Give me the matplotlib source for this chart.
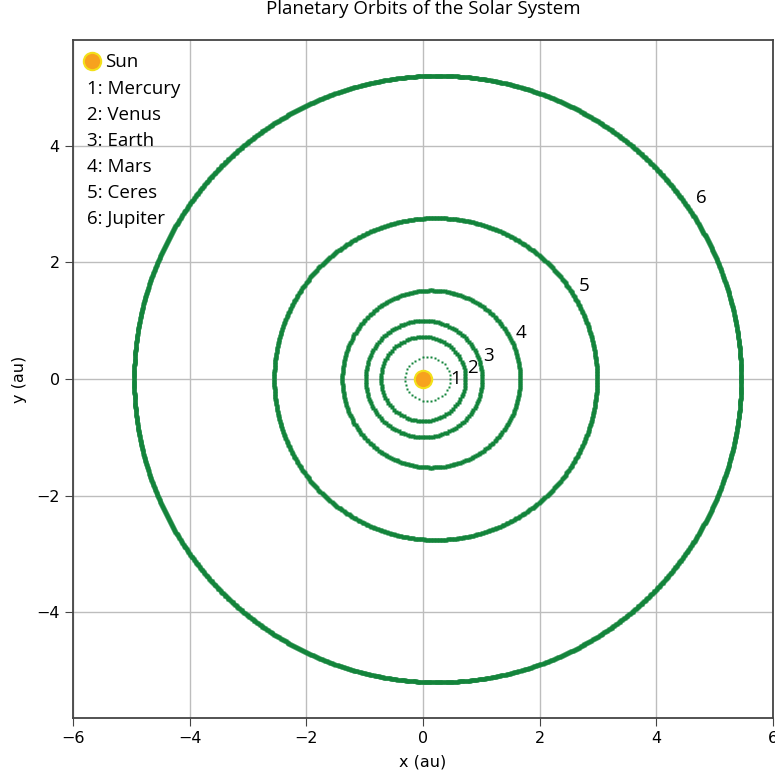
import numpy as np
import matplotlib.pyplot as plt
from matplotlib.lines import Line2D

# orbital elements
names = ['Mercury', 'Venus', 'Earth', 'Mars', 'Ceres', 'Jupiter']
semi_major = [0.387, 0.723, 1.000, 1.524, 2.767, 5.203]      # au
eccentricity = [0.2056, 0.0068, 0.0167, 0.0934, 0.0785, 0.0484]
period_days = [88.0, 224.7, 365.25, 687.0, 1680.0, 4332.6]
label_angle = [0, 13, 19, 25, 30, 33]   # deg, where the number sits
step_days = 2.5

green = '#13843b'
sans = ['Open Sans', 'DejaVu Sans']

fig = plt.figure(figsize=(7.75, 7.8), dpi=100)
ax = fig.add_axes([73 / 775, 62 / 780, 700 / 775, 678 / 780])

for i in range(len(names)):
    a = semi_major[i]
    e = eccentricity[i]
    b = a * np.sqrt(1 - e**2)
    n = int(period_days[i] / step_days)
    E = np.linspace(0, 2 * np.pi, n, endpoint=False)
    x = a * (np.cos(E) + e)
    y = b * np.sin(E)
    ms = 2.1 if n < 60 else 2.7
    ax.plot(x, y, ls='none', marker='s', ms=ms, mec='none', color=green, zorder=3)

    th = np.radians(label_angle[i])
    r = a * (1 - e**2) / (1 - e * np.cos(th)) + 0.1 + 0.035 * i
    ax.text(r * np.cos(th), r * np.sin(th), str(i + 1), ha='center', va='center',
            fontsize=13.5, family=sans, zorder=4)

ax.plot([0], [0], ls='none', marker='o', ms=12.5, mfc='#f7a21e', mec='#f3e019',
        mew=1.5, zorder=5)

ax.set_xlim(-6, 6)
ax.set_ylim(-5.81, 5.81)
ax.set_xticks([-6, -4, -2, 0, 2, 4, 6])
ax.set_yticks([-4, -2, 0, 2, 4])
ax.grid(True, color='#bdbdbd', lw=1)
ax.set_axisbelow(True)
ax.tick_params(labelsize=11.5, length=6, color='#444444')
for s in ax.spines.values():
    s.set_color('#444444')
    s.set_linewidth(1.3)
ax.set_xlabel('x (au)', fontsize=11.5, labelpad=6)
ax.set_ylabel('y (au)', fontsize=11.5, labelpad=7)
ax.set_title('Planetary Orbits of the Solar System', fontsize=13.5, family=sans, pad=19)

sun = Line2D([], [], ls='none', marker='o', ms=12.5, mfc='#f7a21e', mec='#f3e019', mew=1.5)
ax.legend([sun], ['Sun'], loc='upper left', frameon=False, handletextpad=0.42,
          handlelength=0.6, borderpad=0.2, borderaxespad=0.5,
          prop={'family': sans, 'size': 13.5})

for i in range(len(names)):
    ax.text(0.02, 0.9277 - 0.0383 * i, f'{i + 1}: {names[i]}', transform=ax.transAxes,
            ha='left', va='center', fontsize=13.5, family=sans)

fig.savefig('out.png', dpi=100)
